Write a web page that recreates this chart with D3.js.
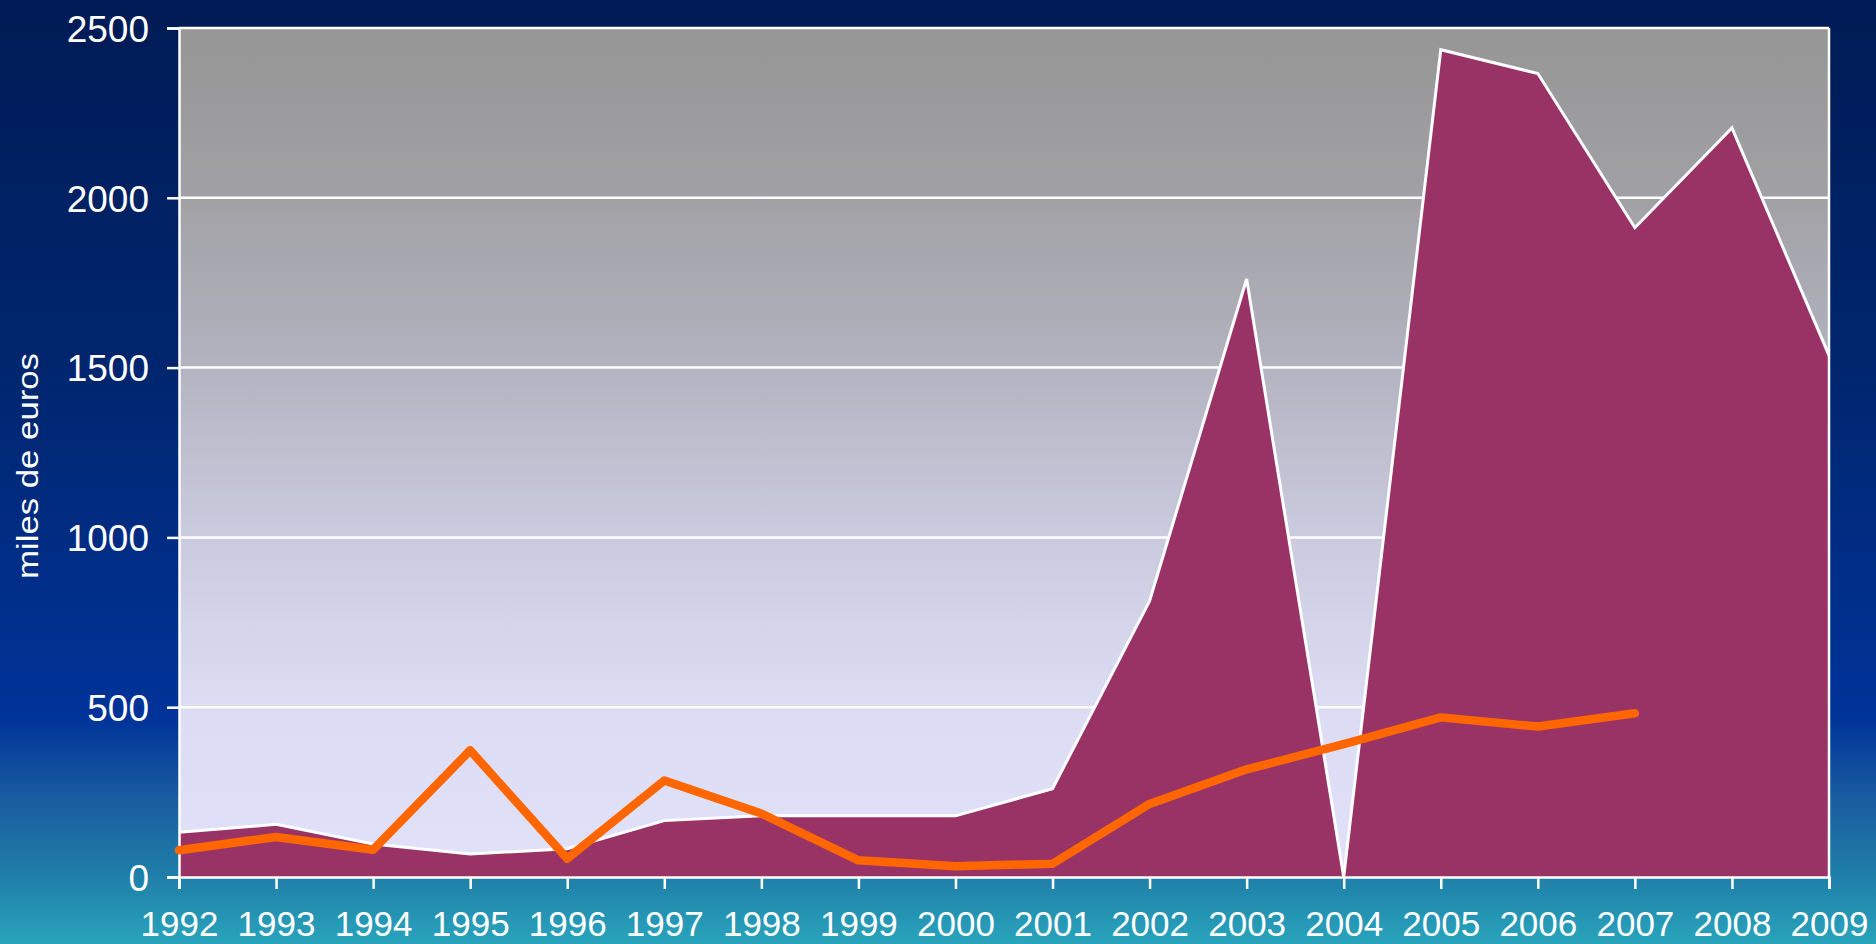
<!DOCTYPE html>
<html>
<head>
<meta charset="utf-8">
<script src="https://cdn.jsdelivr.net/npm/d3@7"></script>
<style>
html,body{margin:0;padding:0;overflow:hidden;}
svg{display:block;font-family:Arial,"Liberation Sans",sans-serif;}
</style>
</head>
<body>
<svg id="chart" width="1876" height="944"></svg>
<script>
const years = [1992,1993,1994,1995,1996,1997,1998,1999,2000,2001,2002,2003,2004,2005,2006,2007,2008,2009];
const areaValues = [132,155,97,68,83,166,180,180,180,260,813,1761,0,2436,2366,1912,2206,1536];
const lineYears = [1992,1993,1994,1995,1996,1997,1998,1999,2000,2001,2002,2003,2004,2005,2006,2007];
const lineValues = [79,118,80,373,54,284,187,49,32,39,215,317,391,470,443,482];
const yTicks = [0,500,1000,1500,2000,2500];
const yLabel = "miles de euros";

const W = 1876, H = 944;
const m = {left:179, right:W-1829, top:28, bottom:H-877};
const svg = d3.select("#chart");
const defs = svg.append("defs");

const bg = defs.append("linearGradient").attr("id","bg").attr("x1",0).attr("y1",0).attr("x2",0).attr("y2",1);
[[0,"#001b55"],[0.4,"#00266f"],[0.76,"#003399"],[0.85,"#1a5ea0"],[0.93,"#1f80a9"],[1,"#29a4bc"]]
  .forEach(s=>bg.append("stop").attr("offset",s[0]).attr("stop-color",s[1]));

const pg = defs.append("linearGradient").attr("id","pg").attr("x1",0).attr("y1",0).attr("x2",0).attr("y2",1);
[[0,"#969696"],[0.2,"#a1a1a5"],[0.4,"#b3b3c1"],[0.6,"#cbcbdf"],[0.8,"#dcdcf4"],[1,"#e1e1fa"]]
  .forEach(s=>pg.append("stop").attr("offset",s[0]).attr("stop-color",s[1]));

svg.append("rect").attr("width",W).attr("height",H).attr("fill","url(#bg)");

const x = d3.scaleLinear().domain([d3.min(years), d3.max(years)]).range([m.left, W-m.right]);
const y = d3.scaleLinear().domain([0,2500]).range([H-m.bottom, m.top]);

defs.append("clipPath").attr("id","clip").append("rect")
  .attr("x",m.left).attr("y",m.top-2).attr("width",W-m.right-m.left).attr("height",H-m.bottom-m.top+2);

svg.append("rect").attr("x",m.left).attr("y",m.top).attr("width",W-m.right-m.left).attr("height",H-m.bottom-m.top).attr("fill","url(#pg)");

// gridlines
svg.append("g").selectAll("line").data(yTicks.filter(d=>d>0)).join("line")
  .attr("x1",m.left).attr("x2",W-m.right).attr("y1",d=>y(d)).attr("y2",d=>y(d))
  .attr("stroke","#ffffff").attr("stroke-width",2.5);

// area
const areaData = years.map((yr,i)=>({x:yr,v:areaValues[i]}));
svg.append("path").datum(areaData).attr("clip-path","url(#clip)")
  .attr("d", d3.area().x(d=>x(d.x)).y0(y(0)).y1(d=>y(d.v)))
  .attr("fill","#993366");
svg.append("path").datum(areaData).attr("clip-path","url(#clip)")
  .attr("d", d3.line().x(d=>x(d.x)).y(d=>y(d.v)))
  .attr("fill","none").attr("stroke","#ffffff").attr("stroke-width",3).attr("stroke-linejoin","miter");

// right border
svg.append("line").attr("x1",W-m.right).attr("x2",W-m.right).attr("y1",m.top).attr("y2",H-m.bottom)
  .attr("stroke","#ffffff").attr("stroke-width",2.5);

// axes
const yAxis = svg.append("g").attr("transform",`translate(${m.left},0)`)
  .call(d3.axisLeft(y).tickValues(yTicks).tickSize(12).tickPadding(18).tickFormat(d3.format("d")));
const xAxis = svg.append("g").attr("transform",`translate(0,${H-m.bottom})`)
  .call(d3.axisBottom(x).tickValues(years).tickSize(12).tickPadding(22).tickFormat(d3.format("d")));
[yAxis,xAxis].forEach(a=>{
  a.selectAll(".domain").attr("stroke","#ffffff").attr("stroke-width",2.5);
  a.selectAll(".tick line").attr("stroke","#ffffff").attr("stroke-width",2.5);
  a.selectAll("text").attr("fill","#ffffff").attr("font-family","Arial, 'Liberation Sans', sans-serif");
});
yAxis.selectAll("text").attr("dy","0.36em").attr("font-size",37);
xAxis.selectAll("text").attr("dy","0.71em").attr("font-size",35);

// orange line
const lineData = lineYears.map((yr,i)=>({x:yr,v:lineValues[i]}));
svg.append("path").datum(lineData)
  .attr("d", d3.line().x(d=>x(d.x)).y(d=>y(d.v)))
  .attr("fill","none").attr("stroke","#ff6600").attr("stroke-width",8.5)
  .attr("stroke-linejoin","round").attr("stroke-linecap","round");

// y label
svg.append("text").attr("transform","translate(38,466) rotate(-90)")
  .attr("text-anchor","middle").attr("fill","#ffffff").attr("font-size",29)
  .attr("textLength",226).attr("lengthAdjust","spacingAndGlyphs")
  .text(yLabel);
</script>
</body>
</html>
